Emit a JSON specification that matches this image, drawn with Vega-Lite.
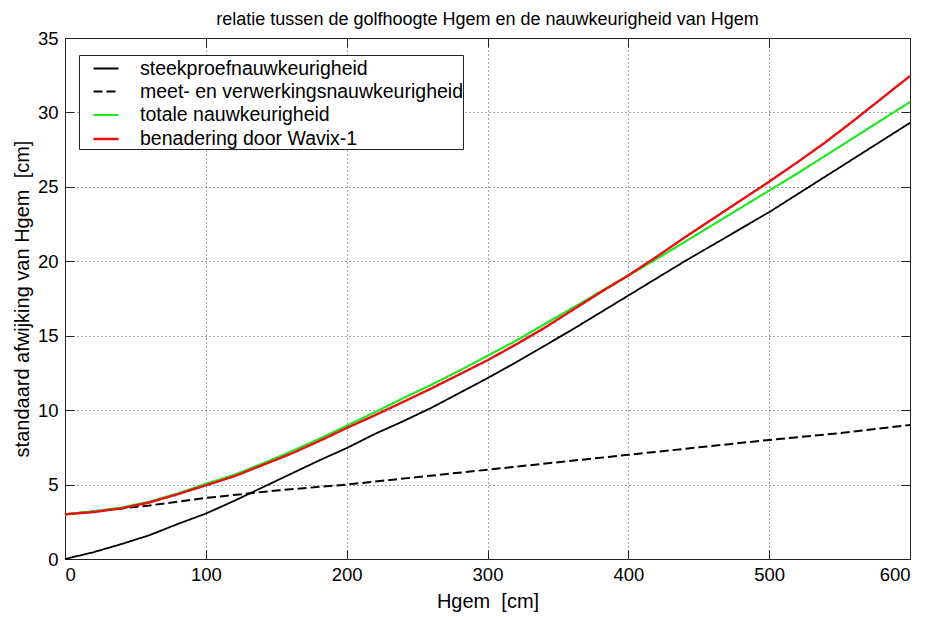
{
  "$schema": "https://vega.github.io/schema/vega-lite/v6.json",
  "width": 845,
  "height": 521,
  "autosize": {"type": "none"},
  "padding": {"left": 65, "top": 38, "right": 19, "bottom": 58},
  "background": "white",
  "title": {
    "text": "relatie tussen de golfhoogte Hgem en de nauwkeurigheid van Hgem",
    "font": "Liberation Sans",
    "fontSize": 18,
    "fontWeight": "normal",
    "color": "black",
    "anchor": "middle",
    "offset": 0
  },
  "config": {
    "view": {"stroke": "#222222", "strokeWidth": 1},
    "axis": {
      "labelFont": "Liberation Sans",
      "labelFontSize": 18.5,
      "labelColor": "black",
      "titleFont": "Liberation Sans",
      "titleFontSize": 20,
      "titleFontWeight": "normal",
      "titleColor": "black",
      "domainColor": "#222222",
      "tickColor": "#222222",
      "tickSize": -9,
      "gridColor": "#222222",
      "gridDash": [1, 3],
      "gridWidth": 1,
      "gridOpacity": 0.8
    }
  },
  "datasets": {
    "curves": [
      {"hgem": 0, "serie": "steekproefnauwkeurigheid", "sd": 0.0},
      {"hgem": 20, "serie": "steekproefnauwkeurigheid", "sd": 0.45},
      {"hgem": 40, "serie": "steekproefnauwkeurigheid", "sd": 1.0},
      {"hgem": 60, "serie": "steekproefnauwkeurigheid", "sd": 1.6},
      {"hgem": 80, "serie": "steekproefnauwkeurigheid", "sd": 2.35},
      {"hgem": 100, "serie": "steekproefnauwkeurigheid", "sd": 3.05},
      {"hgem": 120, "serie": "steekproefnauwkeurigheid", "sd": 3.9},
      {"hgem": 140, "serie": "steekproefnauwkeurigheid", "sd": 4.8},
      {"hgem": 160, "serie": "steekproefnauwkeurigheid", "sd": 5.7},
      {"hgem": 180, "serie": "steekproefnauwkeurigheid", "sd": 6.6},
      {"hgem": 200, "serie": "steekproefnauwkeurigheid", "sd": 7.45},
      {"hgem": 220, "serie": "steekproefnauwkeurigheid", "sd": 8.4},
      {"hgem": 240, "serie": "steekproefnauwkeurigheid", "sd": 9.25},
      {"hgem": 260, "serie": "steekproefnauwkeurigheid", "sd": 10.15},
      {"hgem": 280, "serie": "steekproefnauwkeurigheid", "sd": 11.15},
      {"hgem": 300, "serie": "steekproefnauwkeurigheid", "sd": 12.15},
      {"hgem": 320, "serie": "steekproefnauwkeurigheid", "sd": 13.2},
      {"hgem": 340, "serie": "steekproefnauwkeurigheid", "sd": 14.3},
      {"hgem": 360, "serie": "steekproefnauwkeurigheid", "sd": 15.4},
      {"hgem": 380, "serie": "steekproefnauwkeurigheid", "sd": 16.55},
      {"hgem": 400, "serie": "steekproefnauwkeurigheid", "sd": 17.7},
      {"hgem": 420, "serie": "steekproefnauwkeurigheid", "sd": 18.85},
      {"hgem": 440, "serie": "steekproefnauwkeurigheid", "sd": 20.0},
      {"hgem": 460, "serie": "steekproefnauwkeurigheid", "sd": 21.1},
      {"hgem": 480, "serie": "steekproefnauwkeurigheid", "sd": 22.2},
      {"hgem": 500, "serie": "steekproefnauwkeurigheid", "sd": 23.3},
      {"hgem": 520, "serie": "steekproefnauwkeurigheid", "sd": 24.5},
      {"hgem": 540, "serie": "steekproefnauwkeurigheid", "sd": 25.7},
      {"hgem": 560, "serie": "steekproefnauwkeurigheid", "sd": 26.9},
      {"hgem": 580, "serie": "steekproefnauwkeurigheid", "sd": 28.1},
      {"hgem": 600, "serie": "steekproefnauwkeurigheid", "sd": 29.3},

      {"hgem": 0, "serie": "meet- en verwerkingsnauwkeurigheid", "sd": 3.0},
      {"hgem": 20, "serie": "meet- en verwerkingsnauwkeurigheid", "sd": 3.2},
      {"hgem": 40, "serie": "meet- en verwerkingsnauwkeurigheid", "sd": 3.4},
      {"hgem": 60, "serie": "meet- en verwerkingsnauwkeurigheid", "sd": 3.6},
      {"hgem": 80, "serie": "meet- en verwerkingsnauwkeurigheid", "sd": 3.85},
      {"hgem": 100, "serie": "meet- en verwerkingsnauwkeurigheid", "sd": 4.1},
      {"hgem": 150, "serie": "meet- en verwerkingsnauwkeurigheid", "sd": 4.6},
      {"hgem": 200, "serie": "meet- en verwerkingsnauwkeurigheid", "sd": 5.0},
      {"hgem": 250, "serie": "meet- en verwerkingsnauwkeurigheid", "sd": 5.5},
      {"hgem": 300, "serie": "meet- en verwerkingsnauwkeurigheid", "sd": 6.0},
      {"hgem": 350, "serie": "meet- en verwerkingsnauwkeurigheid", "sd": 6.5},
      {"hgem": 400, "serie": "meet- en verwerkingsnauwkeurigheid", "sd": 7.0},
      {"hgem": 450, "serie": "meet- en verwerkingsnauwkeurigheid", "sd": 7.5},
      {"hgem": 500, "serie": "meet- en verwerkingsnauwkeurigheid", "sd": 8.0},
      {"hgem": 550, "serie": "meet- en verwerkingsnauwkeurigheid", "sd": 8.45},
      {"hgem": 600, "serie": "meet- en verwerkingsnauwkeurigheid", "sd": 9.0},

      {"hgem": 0, "serie": "totale nauwkeurigheid", "sd": 3.0},
      {"hgem": 20, "serie": "totale nauwkeurigheid", "sd": 3.2},
      {"hgem": 40, "serie": "totale nauwkeurigheid", "sd": 3.45},
      {"hgem": 60, "serie": "totale nauwkeurigheid", "sd": 3.85},
      {"hgem": 80, "serie": "totale nauwkeurigheid", "sd": 4.4},
      {"hgem": 100, "serie": "totale nauwkeurigheid", "sd": 5.05},
      {"hgem": 120, "serie": "totale nauwkeurigheid", "sd": 5.65},
      {"hgem": 140, "serie": "totale nauwkeurigheid", "sd": 6.4},
      {"hgem": 160, "serie": "totale nauwkeurigheid", "sd": 7.2},
      {"hgem": 180, "serie": "totale nauwkeurigheid", "sd": 8.05},
      {"hgem": 200, "serie": "totale nauwkeurigheid", "sd": 8.95},
      {"hgem": 220, "serie": "totale nauwkeurigheid", "sd": 9.85},
      {"hgem": 240, "serie": "totale nauwkeurigheid", "sd": 10.8},
      {"hgem": 260, "serie": "totale nauwkeurigheid", "sd": 11.7},
      {"hgem": 280, "serie": "totale nauwkeurigheid", "sd": 12.65},
      {"hgem": 300, "serie": "totale nauwkeurigheid", "sd": 13.65},
      {"hgem": 320, "serie": "totale nauwkeurigheid", "sd": 14.65},
      {"hgem": 340, "serie": "totale nauwkeurigheid", "sd": 15.75},
      {"hgem": 360, "serie": "totale nauwkeurigheid", "sd": 16.85},
      {"hgem": 380, "serie": "totale nauwkeurigheid", "sd": 17.95},
      {"hgem": 400, "serie": "totale nauwkeurigheid", "sd": 19.05},
      {"hgem": 420, "serie": "totale nauwkeurigheid", "sd": 20.15},
      {"hgem": 440, "serie": "totale nauwkeurigheid", "sd": 21.3},
      {"hgem": 460, "serie": "totale nauwkeurigheid", "sd": 22.45},
      {"hgem": 480, "serie": "totale nauwkeurigheid", "sd": 23.6},
      {"hgem": 500, "serie": "totale nauwkeurigheid", "sd": 24.75},
      {"hgem": 520, "serie": "totale nauwkeurigheid", "sd": 25.9},
      {"hgem": 540, "serie": "totale nauwkeurigheid", "sd": 27.1},
      {"hgem": 560, "serie": "totale nauwkeurigheid", "sd": 28.3},
      {"hgem": 580, "serie": "totale nauwkeurigheid", "sd": 29.5},
      {"hgem": 600, "serie": "totale nauwkeurigheid", "sd": 30.7},

      {"hgem": 0, "serie": "benadering door Wavix-1", "sd": 3.0},
      {"hgem": 20, "serie": "benadering door Wavix-1", "sd": 3.15},
      {"hgem": 40, "serie": "benadering door Wavix-1", "sd": 3.4},
      {"hgem": 60, "serie": "benadering door Wavix-1", "sd": 3.8},
      {"hgem": 80, "serie": "benadering door Wavix-1", "sd": 4.35},
      {"hgem": 100, "serie": "benadering door Wavix-1", "sd": 4.95},
      {"hgem": 120, "serie": "benadering door Wavix-1", "sd": 5.55},
      {"hgem": 140, "serie": "benadering door Wavix-1", "sd": 6.3},
      {"hgem": 160, "serie": "benadering door Wavix-1", "sd": 7.05},
      {"hgem": 180, "serie": "benadering door Wavix-1", "sd": 7.9},
      {"hgem": 200, "serie": "benadering door Wavix-1", "sd": 8.8},
      {"hgem": 220, "serie": "benadering door Wavix-1", "sd": 9.65},
      {"hgem": 240, "serie": "benadering door Wavix-1", "sd": 10.55},
      {"hgem": 260, "serie": "benadering door Wavix-1", "sd": 11.45},
      {"hgem": 280, "serie": "benadering door Wavix-1", "sd": 12.4},
      {"hgem": 300, "serie": "benadering door Wavix-1", "sd": 13.35},
      {"hgem": 320, "serie": "benadering door Wavix-1", "sd": 14.4},
      {"hgem": 340, "serie": "benadering door Wavix-1", "sd": 15.5},
      {"hgem": 360, "serie": "benadering door Wavix-1", "sd": 16.7},
      {"hgem": 380, "serie": "benadering door Wavix-1", "sd": 17.9},
      {"hgem": 400, "serie": "benadering door Wavix-1", "sd": 19.05},
      {"hgem": 420, "serie": "benadering door Wavix-1", "sd": 20.3},
      {"hgem": 440, "serie": "benadering door Wavix-1", "sd": 21.6},
      {"hgem": 460, "serie": "benadering door Wavix-1", "sd": 22.85},
      {"hgem": 480, "serie": "benadering door Wavix-1", "sd": 24.1},
      {"hgem": 500, "serie": "benadering door Wavix-1", "sd": 25.35},
      {"hgem": 520, "serie": "benadering door Wavix-1", "sd": 26.65},
      {"hgem": 540, "serie": "benadering door Wavix-1", "sd": 28.0},
      {"hgem": 560, "serie": "benadering door Wavix-1", "sd": 29.45},
      {"hgem": 580, "serie": "benadering door Wavix-1", "sd": 30.95},
      {"hgem": 600, "serie": "benadering door Wavix-1", "sd": 32.45}
    ]
  },
  "data": {"name": "curves"},
  "layer": [
    {
      "mark": {"type": "line"},
      "encoding": {
        "x": {
          "field": "hgem",
          "type": "quantitative",
          "scale": {"domain": [0, 600], "nice": false},
          "axis": {
            "title": "Hgem \u00a0[cm]",
            "values": [0, 100, 200, 300, 400, 500, 600],
            "grid": true,
            "labelPadding": 15,
            "titlePadding": 8
          }
        },
        "y": {
          "field": "sd",
          "type": "quantitative",
          "scale": {"domain": [0, 35], "nice": false},
          "axis": {
            "title": "standaard afwijking van Hgem \u00a0[cm]",
            "values": [0, 5, 10, 15, 20, 25, 30, 35],
            "grid": true,
            "labelPadding": 16,
            "titlePadding": 5
          }
        },
        "color": {
          "field": "serie",
          "type": "nominal",
          "scale": {
            "domain": ["steekproefnauwkeurigheid", "meet- en verwerkingsnauwkeurigheid", "totale nauwkeurigheid", "benadering door Wavix-1"],
            "range": ["#000000", "#000000", "#22e622", "#e81010"]
          },
          "legend": {
            "title": null,
            "orient": "none",
            "legendX": 14,
            "legendY": 17,
            "direction": "vertical",
            "symbolType": "stroke",
            "symbolSize": 625,
            "symbolStrokeWidth": 1.6,
            "symbolOffset": 13,
            "labelFont": "Liberation Sans",
            "labelFontSize": 19.5,
            "labelColor": "black",
            "labelOffset": 20,
            "labelLimit": 500,
            "rowPadding": 0,
            "padding": 0,
            "strokeColor": "#222222",
            "fillColor": "white"
          }
        },
        "strokeDash": {
          "field": "serie",
          "type": "nominal",
          "scale": {
            "domain": ["steekproefnauwkeurigheid", "meet- en verwerkingsnauwkeurigheid", "totale nauwkeurigheid", "benadering door Wavix-1"],
            "range": [[1, 0], [9, 4], [1, 0], [1, 0]]
          },
          "legend": null
        },
        "strokeWidth": {
          "field": "serie",
          "type": "nominal",
          "scale": {
            "domain": ["steekproefnauwkeurigheid", "meet- en verwerkingsnauwkeurigheid", "totale nauwkeurigheid", "benadering door Wavix-1"],
            "range": [1.8, 2.4, 2, 2]
          },
          "legend": null
        },
        "order": {"field": "hgem", "type": "quantitative"}
      }
    },
    {
      "mark": {"type": "rule", "opacity": 0},
      "encoding": {
        "x": {
          "datum": 0,
          "type": "quantitative",
          "axis": {"orient": "top", "values": [0, 100, 200, 300, 400, 500, 600], "labels": false, "title": null, "grid": false, "domain": false}
        },
        "y": {
          "datum": 0,
          "type": "quantitative",
          "axis": {"orient": "right", "values": [0, 5, 10, 15, 20, 25, 30, 35], "labels": false, "title": null, "grid": false, "domain": false}
        }
      }
    }
  ],
  "resolve": {"scale": {"x": "shared", "y": "shared"}, "axis": {"x": "independent", "y": "independent"}}
}
